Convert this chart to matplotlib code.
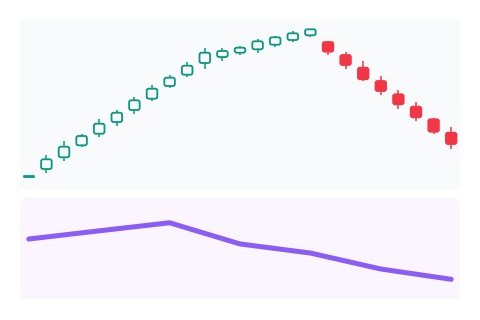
import matplotlib
matplotlib.use("Agg")
import matplotlib.pyplot as plt
from matplotlib.patches import FancyBboxPatch, Rectangle
from matplotlib.transforms import IdentityTransform

# candle data
opens  = [23.3, 31.0, 42.7, 54.7, 66.3, 78.0, 90.0, 101.3, 114.0, 125.3, 137.0, 143.0, 147.3,
          150.7, 155.3, 160.0, 164.7, 158.0, 145.0, 132.3, 119.0, 105.7, 93.3, 80.7, 67.3]
closes = [23.6, 40.7, 53.3, 64.0, 76.3, 87.3, 99.7, 111.3, 122.3, 134.3, 147.3, 149.0, 152.3,
          158.7, 162.7, 166.7, 170.7, 148.3, 135.0, 120.7, 109.0, 95.7, 82.7, 68.3, 56.0]
highs  = [24.0, 45.0, 58.7, 66.0, 81.0, 90.0, 102.7, 114.7, 125.3, 138.0, 151.7, 152.3, 154.3,
          160.7, 164.0, 169.0, 171.3, 159.0, 148.3, 139.0, 124.0, 110.0, 97.7, 82.3, 73.3]
lows   = [22.9, 27.3, 39.3, 52.7, 62.7, 74.0, 86.0, 98.7, 111.7, 123.3, 131.3, 139.3, 145.0,
          147.3, 152.7, 157.7, 163.3, 145.0, 130.7, 119.0, 104.7, 91.3, 79.3, 66.0, 51.3]

# indicator line in lower panel
ind_x = [0, 4, 8, 12, 16, 20, 24]
ind_y = [59.4, 67.5, 75.5, 54.5, 45.5, 29.7, 19.5]

up_col = "#089981"
down_col = "#f23645"
top_bg = "#f8fafc"
bot_bg = "#faf5ff"

fig = plt.figure(figsize=(4.8, 3.2), dpi=100)
W, H = 480, 320

# rounded panel backgrounds in pixel coords, drawn under the axes
for (x0, y0, w, h), c in [((20, 130, 440, 170), top_bg), ((20, 21, 440, 101), bot_bg)]:
    p = FancyBboxPatch((x0, y0), w, h, boxstyle="round,pad=0,rounding_size=6",
                       facecolor=c, edgecolor="none", transform=IdentityTransform(), zorder=-10)
    fig.patches.append(p)

ax = fig.add_axes([20 / W, 130 / H, 440 / W, 170 / H])
ax2 = fig.add_axes([20 / W, 21 / H, 440 / W, 101 / H])

n = len(opens)
ax.set_xlim(-0.5, n - 0.5)
ax.set_ylim(10, 180)
# pixels per data unit, to keep the body corners round
px_x = 440 / n
px_y = 170 / 170.0

bw = 0.6
for i in range(n):
    o, c, hi, lo = opens[i], closes[i], highs[i], lows[i]
    up = c >= o
    col = up_col if up else down_col
    ax.plot([i, i], [lo, hi], color=col, lw=1.1, solid_capstyle="butt", zorder=2)
    bottom = min(o, c)
    hgt = abs(c - o)
    face = top_bg if up else col
    if hgt < 4:
        r = Rectangle((i - bw / 2, bottom), bw, max(hgt, 0.3), facecolor=face, edgecolor=col,
                      lw=1.3, joinstyle="round", zorder=3)
    else:
        r = FancyBboxPatch((i - bw / 2, bottom), bw, hgt,
                           boxstyle="round,pad=0,rounding_size=%f" % (2.0 / px_x),
                           mutation_aspect=px_x / px_y,
                           facecolor=face, edgecolor=col, lw=1.3, zorder=3)
    ax.add_patch(r)

ax2.plot(ind_x, ind_y, color="#8b5cf6", lw=3.6, solid_joinstyle="round",
         solid_capstyle="round")
ax2.set_xlim(-0.5, n - 0.5)
ax2.set_ylim(0, 100)

for a in (ax, ax2):
    a.set_facecolor("none")
    a.set_xticks([])
    a.set_yticks([])
    for s in a.spines.values():
        s.set_visible(False)

fig.savefig("out.png", dpi=100, facecolor="white")
